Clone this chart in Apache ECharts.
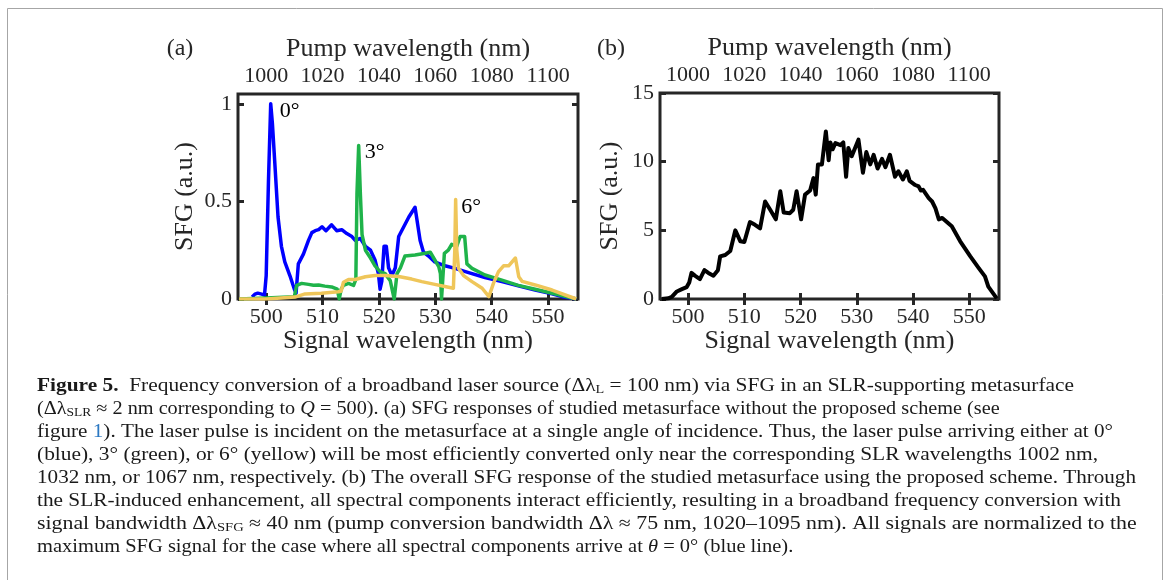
<!DOCTYPE html>
<html>
<head>
<meta charset="utf-8">
<script src="https://cdn.jsdelivr.net/npm/echarts@6/dist/echarts.min.js"></script>
<style>
html, body { margin: 0; padding: 0; background: #fff; }
#main { width: 1167px; height: 580px; }
</style>
</head>
<body>
<div id="main"></div>
<script>
// signal wavelength (nm), SFG (a.u.)
var curve_0deg = [
    [497.5, 0.01], [498.0, 0.025], [498.5, 0.03], [499.2, 0.025], [499.7, 0.02], [500.0, 0.12],
    [500.4, 0.6], [500.8, 1.0], [501.1, 0.9], [501.5, 0.71], [502.1, 0.42], [502.7, 0.27],
    [503.3, 0.19], [504.2, 0.12], [505.0, 0.05], [505.3, 0.03], [505.7, 0.18], [506.6, 0.23],
    [507.5, 0.3], [508.1, 0.34], [508.7, 0.35], [509.3, 0.355], [509.9, 0.37], [510.6, 0.35],
    [511.6, 0.38], [512.5, 0.35], [513.4, 0.355], [514.3, 0.335], [515.2, 0.32], [515.8, 0.3],
    [516.7, 0.31], [517.6, 0.27], [518.5, 0.25], [519.3, 0.2], [519.9, 0.13], [520.2, 0.05],
    [520.5, 0.09], [520.9, 0.27], [521.3, 0.27], [521.7, 0.16], [522.3, 0.12], [522.9, 0.16],
    [523.5, 0.32], [524.4, 0.37], [525.3, 0.42], [526.4, 0.47], [526.7, 0.46], [527.3, 0.3],
    [527.9, 0.24], [528.8, 0.22], [529.9, 0.19], [531.7, 0.17], [533.5, 0.157], [535.9, 0.135],
    [538.8, 0.11], [541.8, 0.089], [544.7, 0.068], [547.7, 0.046], [550.7, 0.027], [552.5, 0.012],
    [555.0, 0]
];
var curve_3deg = [
    [495.2, 0], [500.0, 0.005], [505.0, 0.012], [505.4, 0.07], [506.3, 0.08], [507.5, 0.075],
    [508.4, 0.07], [509.3, 0.072], [510.4, 0.066], [511.6, 0.062], [512.6, 0.05], [512.95, 0],
    [513.3, 0.05], [513.7, 0.07], [514.6, 0.08], [515.5, 0.07], [515.9, 0.1], [516.1, 0.54],
    [516.4, 0.786], [516.7, 0.54], [517.0, 0.33], [517.6, 0.25], [518.5, 0.21], [519.3, 0.17],
    [520.2, 0.14], [521.1, 0.13], [522.0, 0.094], [522.4, 0.04], [522.7, 0], [522.9, 0],
    [523.2, 0.13], [523.8, 0.16], [524.6, 0.22], [526.4, 0.225], [528.2, 0.234], [529.1, 0.24],
    [529.7, 0.21], [530.6, 0.166], [530.9, 0.13], [531.1, 0], [531.4, 0], [531.6, 0.234],
    [532.3, 0.25], [532.9, 0.28], [533.8, 0.27], [534.4, 0.32], [535.2, 0.32], [535.6, 0.18],
    [536.5, 0.157], [538.8, 0.123], [541.8, 0.097], [544.7, 0.07], [547.7, 0.05], [551.3, 0.026],
    [555.0, 0]
];
var curve_6deg = [
    [495.2, 0], [500.0, 0], [505.1, 0.01], [506.9, 0.026], [509.8, 0.03], [512.8, 0.037],
    [513.3, 0.04], [513.7, 0.086], [514.6, 0.1], [515.8, 0.1], [517.6, 0.114], [519.3, 0.12],
    [521.1, 0.12], [523.5, 0.115], [525.8, 0.102], [527.6, 0.089], [529.9, 0.075], [531.7, 0.064],
    [533.2, 0.055], [533.45, 0.25], [533.6, 0.51], [533.8, 0.25], [534.1, 0.157], [535.0, 0.12],
    [536.5, 0.089], [538.3, 0.055], [539.5, 0.012], [539.8, 0.01], [540.3, 0.08], [541.2, 0.14],
    [542.1, 0.17], [543.0, 0.17], [544.2, 0.21], [544.8, 0.114], [545.4, 0.09], [547.7, 0.072],
    [550.7, 0.046], [555.0, 0]
];
var curve_total = [
    [495.3, 0], [496.5, 0.05], [497.1, 0.15], [498.0, 0.55], [498.9, 0.72], [499.75, 0.87],
    [500.2, 1.2], [500.6, 1.9], [501.2, 1.7], [502.1, 1.45], [502.9, 2.1], [503.6, 1.9],
    [504.5, 1.7], [505.3, 2.1], [505.7, 3.1], [506.6, 3.2], [507.5, 3.5], [508.4, 5.0],
    [509.3, 4.2], [510.0, 4.15], [511.0, 5.6], [511.9, 5.4], [512.8, 5.15], [513.7, 7.1],
    [514.6, 6.5], [515.6, 5.8], [516.4, 7.85], [517.0, 6.3], [518.1, 6.25], [518.7, 6.5],
    [519.3, 7.85], [520.1, 5.8], [520.8, 7.6], [521.7, 7.9], [522.3, 8.8], [522.7, 7.6],
    [523.1, 9.8], [523.8, 9.8], [524.5, 12.2], [525.0, 10.1], [525.3, 11.4], [525.7, 10.9],
    [526.2, 11.35], [527.1, 11.2], [527.6, 11.4], [528.1, 8.9], [528.5, 11.0], [529.1, 10.4],
    [529.7, 11.0], [530.3, 11.6], [531.1, 9.2], [531.7, 10.7], [532.4, 9.8], [533.0, 10.5],
    [533.7, 9.5], [534.5, 10.2], [535.1, 9.6], [535.9, 10.5], [536.8, 8.9], [537.4, 9.3],
    [538.2, 8.7], [538.9, 9.3], [539.4, 8.6], [540.4, 8.3], [541.0, 8.2], [541.4, 7.9],
    [541.8, 7.95], [542.8, 7.35], [543.4, 7.1], [544.0, 6.6], [544.6, 5.8], [545.2, 5.9],
    [546.9, 5.3], [548.4, 4.2], [550.2, 3.1], [551.7, 2.25], [552.8, 1.65], [553.4, 0.9],
    [554.9, 0.05]
];

// tick positions
var signal_ticks = [500, 510, 520, 530, 540, 550];
var sfg_ticks_a = [0, 0.5, 1];
var sfg_ticks_b = [0, 5, 10, 15];

var caption_lines = [
    '{b|Figure 5.}  Frequency conversion of a broadband laser source (Δλ{sub|L} = 100 nm) via SFG in an SLR-supporting metasurface',
    '(Δλ{sub|SLR} ≈ 2 nm corresponding to {i|Q} = 500). (a) SFG responses of studied metasurface without the proposed scheme (see',
    'figure {link|1}). The laser pulse is incident on the metasurface at a single angle of incidence. Thus, the laser pulse arriving either at 0°',
    '(blue), 3° (green), or 6° (yellow) will be most efficiently converted only near the corresponding SLR wavelengths 1002 nm,',
    '1032 nm, or 1067 nm, respectively. (b) The overall SFG response of the studied metasurface using the proposed scheme. Through',
    'the SLR-induced enhancement, all spectral components interact efficiently, resulting in a broadband frequency conversion with',
    'signal bandwidth Δλ{sub|SFG} ≈ 40 nm (pump conversion bandwidth Δλ ≈ 75 nm, 1020–1095 nm). All signals are normalized to the',
    'maximum SFG signal for the case where all spectral components arrive at {i|θ} = 0° (blue line).'
];
// right edge of every caption line in the reference
var caption_ends = [1074, 1012, 1113, 1098, 1136, 1121, 1150, 793];

var SERIF = '"Liberation Serif", "Times New Roman", serif';
var INK = '#262626';
var XMIN = 495, XMAX = 555.3;

var chart = echarts.init(document.getElementById('main'), null, {renderer: 'canvas'});

function tickStyle(values) {
    return {show: true, inside: true, length: 6, customValues: values,
        lineStyle: {color: INK, width: 3}};
}

function xAxisFor(grid, top) {
    return {
        type: 'value', gridIndex: grid, position: top ? 'top' : 'bottom',
        min: XMIN, max: XMAX,
        axisLine: {show: false},
        axisTick: tickStyle(signal_ticks),
        splitLine: {show: false},
        axisLabel: {
            customValues: signal_ticks, margin: 7, color: INK, fontSize: 22, fontFamily: SERIF,
            formatter: function (v) { return top ? String(Math.round(v * 2)) : String(v); }
        },
        name: top ? 'Pump wavelength (nm)' : 'Signal wavelength (nm)',
        nameLocation: 'middle', nameGap: top ? 32 : 29, nameMoveOverlap: false,
        nameTextStyle: {color: INK, fontSize: 26, fontFamily: SERIF}
    };
}

function yAxisFor(grid, max, ticks, right, gap) {
    return {
        type: 'value', gridIndex: grid, position: right ? 'right' : 'left',
        min: 0, max: max,
        axisLine: {show: false},
        axisTick: tickStyle(ticks),
        splitLine: {show: false},
        axisLabel: {show: !right, customValues: ticks, margin: 6, color: INK, fontSize: 22, fontFamily: SERIF},
        name: right ? '' : 'SFG (a.u.)',
        nameLocation: 'middle', nameGap: gap, nameMoveOverlap: false,
        nameTextStyle: {color: INK, fontSize: 26, fontFamily: SERIF}
    };
}

function angleMark(text, coord) {
    return {
        symbol: 'circle', symbolSize: 1, silent: true,
        itemStyle: {color: 'rgba(0,0,0,0)'},
        label: {show: true, position: 'right', distance: 0, formatter: text,
            color: '#000', fontSize: 22, fontFamily: SERIF},
        data: [{coord: coord}]
    };
}

function line(name, data, color, width, xi, yi, mark) {
    return {
        name: name, type: 'line', data: data, xAxisIndex: xi, yAxisIndex: yi,
        showSymbol: false, symbol: 'none', silent: true,
        lineStyle: {color: color, width: width, join: 'round'},
        markPoint: mark
    };
}

// caption text, stretched line by line to the reference widths
var measureCtx = document.createElement('canvas').getContext('2d');
measureCtx.font = '18px ' + SERIF;
var captionGraphics = caption_lines.map(function (txt, i) {
    var plain = txt.replace(/\{[a-z]+\|/g, '').replace(/\}/g, '');
    var w = measureCtx.measureText(plain).width;
    return {
        type: 'text', x: 37, y: 386 + i * 23, scaleX: (caption_ends[i] - 37) / w,
        silent: true,
        style: {
            text: txt, fill: '#1a1a1a', font: '18px ' + SERIF,
            verticalAlign: 'middle', align: 'left', lineHeight: 20,
            rich: {
                b: {fontWeight: 'bold', fontSize: 18, fontFamily: SERIF, lineHeight: 20},
                i: {fontStyle: 'italic', fontSize: 18, fontFamily: SERIF, lineHeight: 20},
                sub: {fontSize: 12, fontFamily: SERIF, lineHeight: 8, verticalAlign: 'bottom'},
                link: {fill: '#2b78c2', fontSize: 18, fontFamily: SERIF, lineHeight: 20}
            }
        }
    };
});

var option = {
    animation: false,
    backgroundColor: '#fff',
    grid: [
        {left: 238, top: 94, width: 340, height: 205, show: true, borderColor: INK, borderWidth: 3,
            backgroundColor: 'transparent', outerBoundsMode: 'none'},
        {left: 660, top: 93, width: 339, height: 206, show: true, borderColor: INK, borderWidth: 3,
            backgroundColor: 'transparent', outerBoundsMode: 'none'}
    ],
    xAxis: [xAxisFor(0, false), xAxisFor(0, true), xAxisFor(1, false), xAxisFor(1, true)],
    yAxis: [
        yAxisFor(0, 1.05, sfg_ticks_a, false, 40),
        yAxisFor(0, 1.05, sfg_ticks_a, true, 0),
        yAxisFor(1, 15, sfg_ticks_b, false, 37),
        yAxisFor(1, 15, sfg_ticks_b, true, 0)
    ],
    series: [
        line('0°', curve_0deg, '#0000ff', 3.5, 0, 0, angleMark('0°', [502.3, 0.96])),
        line('3°', curve_3deg, '#1fb34a', 3.5, 0, 0, angleMark('3°', [517.4, 0.75])),
        line('6°', curve_6deg, '#efc65a', 3.5, 0, 0, angleMark('6°', [534.5, 0.47])),
        line('total', curve_total, '#000', 4, 2, 2)
    ],
    graphic: [
        {type: 'rect', silent: true, shape: {x: 7.5, y: 8.5, width: 1155, height: 620},
            style: {fill: 'none', stroke: '#a6a6a6', lineWidth: 1}},
        {type: 'text', x: 180, y: 49, silent: true,
            style: {text: '(a)', fill: INK, font: '24px ' + SERIF, align: 'center', verticalAlign: 'middle'}},
        {type: 'text', x: 611, y: 49, silent: true,
            style: {text: '(b)', fill: INK, font: '24px ' + SERIF, align: 'center', verticalAlign: 'middle'}}
    ].concat(captionGraphics)
};

chart.setOption(option);
</script>
</body>
</html>
